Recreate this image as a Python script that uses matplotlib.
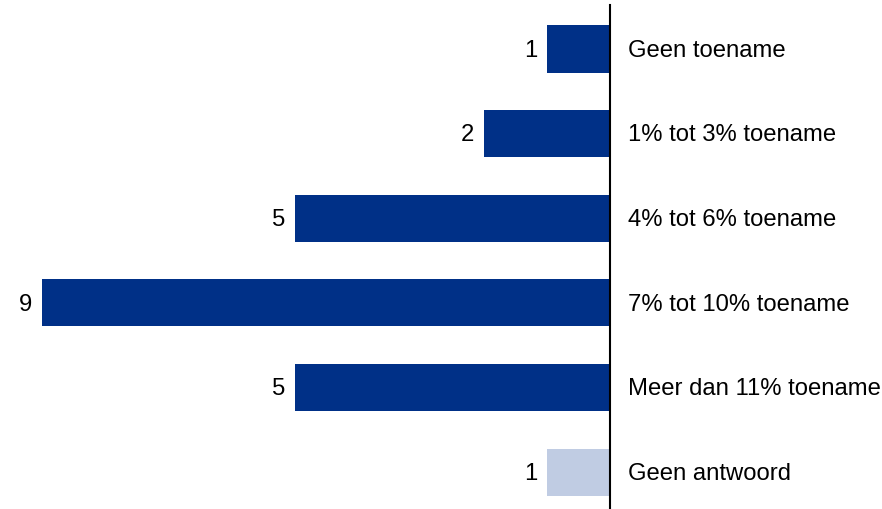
import matplotlib
matplotlib.use("Agg")
import matplotlib.pyplot as plt

categories = ["Geen toename", "1% tot 3% toename", "4% tot 6% toename",
              "7% tot 10% toename", "Meer dan 11% toename", "Geen antwoord"]
values = [1, 2, 5, 9, 5, 1]
colors = ["#003087", "#003087", "#003087", "#003087", "#003087", "#c0cce3"]

plt.rcParams['font.family'] = ['Liberation Sans', 'DejaVu Sans']

fig = plt.figure(figsize=(8.82, 5.09), dpi=100)
ax = fig.add_axes([0, 0, 1, 1])
ypos = list(range(len(categories)))
ax.barh(ypos, [-v for v in values], height=0.556, color=colors)
ax.set_xlim(-9.667, 4.31)
ax.set_ylim(5.437, -0.579)
ax.axvline(0, ymin=0, ymax=(5.437 + 0.520) / (5.437 + 0.579), color="black", lw=1.5)
for y, v, c in zip(ypos, values, categories):
    ax.text(-v - 0.15, y + 0.02, str(v), ha="right", va="center", fontsize=17.2)
    ax.text(0.28, y + 0.02, c, ha="left", va="center", fontsize=17.2)
ax.axis("off")
fig.savefig("out.png", dpi=100)
